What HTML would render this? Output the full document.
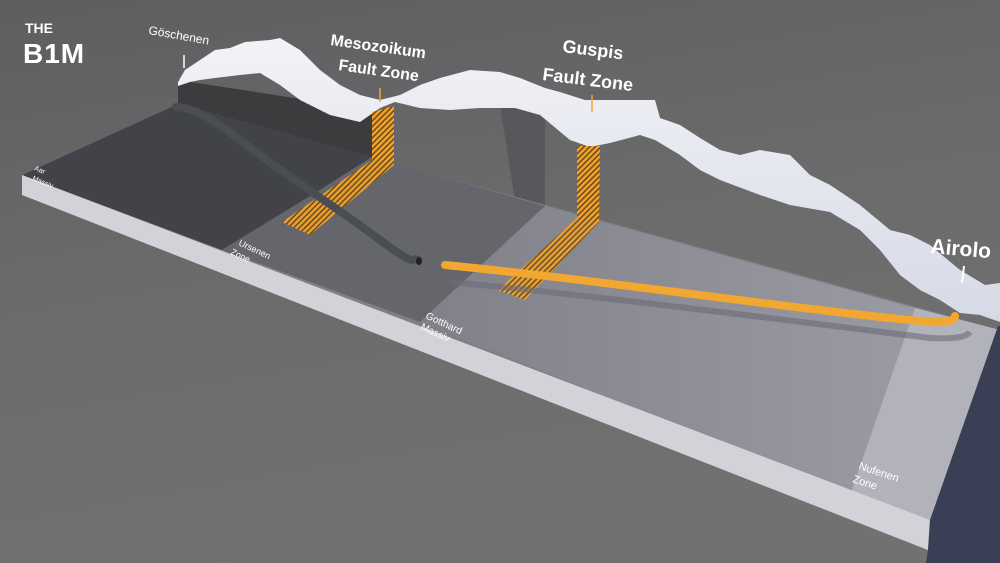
<!DOCTYPE html>
<html><head><meta charset="utf-8"><style>
html,body{margin:0;padding:0;width:1000px;height:563px;overflow:hidden;background:#6b6b6b}
svg{display:block}
text{font-family:"Liberation Sans",sans-serif;fill:#fff}
</style></head><body>
<svg width="1000" height="563" viewBox="0 0 1000 563" xmlns="http://www.w3.org/2000/svg">
<defs>
<linearGradient id="bg" x1="0" y1="0" x2="0.3" y2="1">
<stop offset="0" stop-color="#5e5e60"/><stop offset="0.5" stop-color="#6b6b6c"/><stop offset="1" stop-color="#717171"/>
</linearGradient>
<pattern id="hatch" width="4" height="4" patternUnits="userSpaceOnUse" patternTransform="rotate(45)">
<rect width="4" height="4" fill="#f0a22a"/><rect width="1.5" height="4" fill="#6a4a1c"/>
</pattern>
<linearGradient id="snow" x1="0" y1="0" x2="0" y2="1">
<stop offset="0" stop-color="#f2f3f7"/><stop offset="1" stop-color="#d6dae6"/>
</linearGradient>
<linearGradient id="gott" x1="0" y1="0" x2="1" y2="0">
<stop offset="0" stop-color="#808188"/><stop offset="1" stop-color="#9a9aa2"/>
</linearGradient>
</defs>
<rect width="1000" height="563" fill="url(#bg)"/>
<!-- back wall regions -->
<polygon points="178,80 372,110 372,157 178,104" fill="#3c3c3e"/>
<polygon points="500,105 545,110 545,206 515,200" fill="#58585c"/>
<!-- mountain -->
<polygon fill="url(#snow)" points="178,82 185,70 200,60 215,50 230,48 245,42 270,40 280,38 300,50 320,70 340,85 360,95 380,100 400,95 420,85 440,78 470,70 500,72 520,78 545,88 560,92 585,100 620,100 655,100 660,118 680,125 700,138 720,150 740,155 760,150 790,155 810,175 830,185 860,205 890,230 910,235 930,245 960,270 985,285 1000,283 1000,322 980,315 960,313 940,300 920,290 900,275 880,250 860,230 830,212 790,205 760,195 720,180 700,170 680,155 655,140 640,135 610,143 590,147 570,140 540,115 515,108 480,108 450,110 420,108 395,102 380,108 360,122 330,115 300,100 280,85 260,73 240,75 215,78 200,80 190,82 178,86"/>
<!-- slab top -->
<polygon points="22,175 178,104 1000,330 930,520" fill="#7f8086"/>
<polygon points="22,175 178,104 372,157 320,190 222,250" fill="#414349"/>
<polygon points="222,250 320,190 372,157 545,206 420,322" fill="#65666c"/>
<polygon points="420,322 545,206 915,308 850,495" fill="url(#gott)"/>
<polygon points="850,495 915,308 1000,330 930,520" fill="#b2b3ba"/>
<!-- front face -->
<polygon points="22,175 930,520 928,550 22,195" fill="#d2d3d8"/>
<!-- right face -->
<polygon points="930,520 998,326 1000,326 1000,563 926,563 928,550" fill="#3a3f55"/>
<!-- fault zones -->
<polygon points="372,112 394,106 394,165 372,160" fill="url(#hatch)"/>
<polygon points="372,160 394,165 310,235 282,222" fill="url(#hatch)" opacity="0.95"/>
<polygon points="577,146 600,146 599,222 577,218" fill="url(#hatch)"/>
<polygon points="577,218 599,222 525,300 498,290" fill="url(#hatch)" opacity="0.9"/>
<!-- tunnels -->
<path d="M176,107 C200,108 220,125 260,155 S340,210 380,240 S410,256 418,260" stroke="#4a4e53" stroke-width="8" fill="none" stroke-linecap="round"/>
<ellipse cx="419" cy="261" rx="3" ry="4" fill="#222"/>
<path d="M450,282 C600,296 800,322 930,338 Q965,340 970,332" stroke="#6a6a78" stroke-width="6" fill="none" opacity="0.6"/>
<path d="M445,265 C600,280 800,310 930,322 Q955,323 955,316" stroke="#f2a830" stroke-width="8" fill="none" stroke-linecap="round"/>
<!-- pointer lines -->
<line x1="184" y1="55" x2="184" y2="68" stroke="#fff" stroke-width="1.5"/>
<line x1="380" y1="88" x2="380" y2="102" stroke="#f2a830" stroke-width="1.5"/>
<line x1="592" y1="95" x2="592" y2="112" stroke="#f2a830" stroke-width="1.5"/>
<line x1="964" y1="266" x2="962" y2="283" stroke="#fff" stroke-width="2"/>
<!-- labels -->
<text x="25" y="33" font-size="14" font-weight="bold">THE</text>
<text x="23" y="63" font-size="28" font-weight="bold" letter-spacing="1">B1M</text>
<text x="148" y="34" font-size="12" transform="rotate(10 148 34)">Göschenen</text>
<text x="330" y="45" font-size="16" font-weight="bold" transform="rotate(8 330 45)">Mesozoikum</text>
<text x="338" y="70" font-size="16" font-weight="bold" transform="rotate(8 338 70)">Fault Zone</text>
<text x="562" y="52" font-size="18" font-weight="bold" transform="rotate(7 562 52)">Guspis</text>
<text x="542" y="80" font-size="18" font-weight="bold" transform="rotate(7 542 80)">Fault Zone</text>
<text x="930" y="253" font-size="21" font-weight="bold" transform="rotate(5 930 253)">Airolo</text>
<text x="34" y="170" font-size="7" transform="rotate(22 34 170)">Aar</text>
<text x="32" y="180" font-size="7" transform="rotate(22 32 180)">Massiv</text>
<text x="238" y="245" font-size="9" transform="rotate(25 238 245)">Ursenen</text>
<text x="230" y="254" font-size="9" transform="rotate(25 230 254)">Zone</text>
<text x="425" y="318" font-size="10" transform="rotate(25 425 318)">Gotthard</text>
<text x="420" y="329" font-size="10" transform="rotate(25 420 329)">Massiv</text>
<text x="858" y="469" font-size="11" transform="rotate(18 858 469)">Nufenen</text>
<text x="852" y="482" font-size="11" transform="rotate(18 852 482)">Zone</text>
</svg>
</body></html>
